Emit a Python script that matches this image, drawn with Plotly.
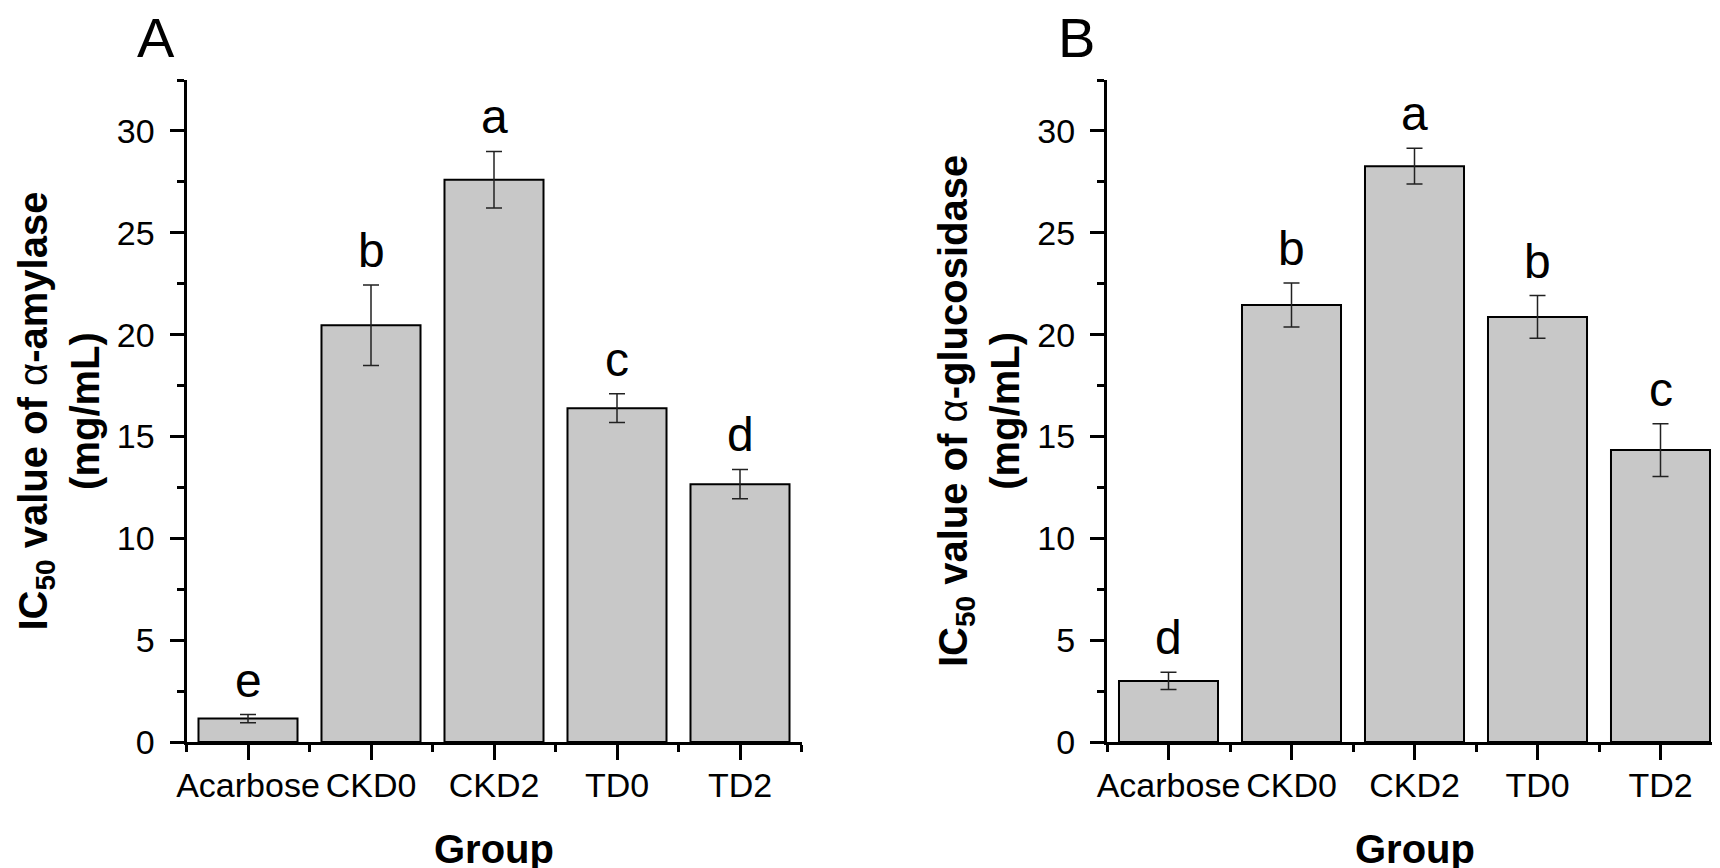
import plotly.graph_objects as go

# IC50 values (mg/mL), mean and SD per group
categories = ["Acarbose", "CKD0", "CKD2", "TD0", "TD2"]

amylase_mean = [1.15, 20.46, 27.60, 16.39, 12.66]
amylase_sd = [0.20, 1.98, 1.39, 0.71, 0.72]
amylase_letters = ["e", "b", "a", "c", "d"]

glucosidase_mean = [3.00, 21.45, 28.27, 20.87, 14.33]
glucosidase_sd = [0.42, 1.08, 0.88, 1.05, 1.29]
glucosidase_letters = ["d", "b", "a", "b", "c"]

FONT = "Arial, Liberation Sans, sans-serif"
W, H = 1720, 868
BAR_FILL = "#c8c8c8"

panels = [
    dict(tag="A", mean=amylase_mean, sd=amylase_sd, letters=amylase_letters,
         enzyme="amylase", x0=178.5, x1=793.5, xaxis="x", yaxis="y"),
    dict(tag="B", mean=glucosidase_mean, sd=glucosidase_sd, letters=glucosidase_letters,
         enzyme="glucosidase", x0=1099, x1=1714, xaxis="x2", yaxis="y2"),
]

plot_top, plot_bottom = 72, 734
ydom = [(H - plot_bottom) / H, (H - plot_top) / H]

fig = go.Figure()
annotations = []
xpos = list(range(len(categories)))

for i, p in enumerate(panels):
    fig.add_trace(go.Bar(
        x=xpos,
        y=p["mean"],
        width=0.805,
        marker=dict(color=BAR_FILL, line=dict(color="black", width=2)),
        error_y=dict(type="data", array=p["sd"], color="#222222", thickness=1.5, width=8),
        xaxis=p["xaxis"],
        yaxis=p["yaxis"],
        showlegend=False,
        hoverinfo="skip",
    ))

    # significance letters above the error bars
    for xi, m, s, lt in zip(xpos, p["mean"], p["sd"], p["letters"]):
        annotations.append(dict(
            x=xi, y=m + s, xref=p["xaxis"], yref=p["yaxis"],
            text=lt, showarrow=False, xanchor="center", yanchor="bottom", yshift=6,
            font=dict(family=FONT, size=48, color="black"),
        ))

    xdom = [p["x0"] / W, p["x1"] / W]
    sfx = "" if i == 0 else str(i + 1)
    fig.update_layout(**{
        "xaxis" + sfx: dict(
            domain=xdom, anchor=p["yaxis"], range=[-0.5, 4.5],
            tickmode="array", tickvals=xpos, ticktext=categories,
            showline=True, linecolor="black", linewidth=3,
            ticks="outside", ticklen=15, tickwidth=2.5, tickcolor="black",
            minor=dict(tickmode="linear", tick0=-0.5, dtick=1, ticks="outside",
                       ticklen=7, tickwidth=2.5, tickcolor="black"),
            showgrid=False, zeroline=False, ticklabelstandoff=-4,
            tickfont=dict(family=FONT, size=34, color="black"),
            fixedrange=True,
        ),
        "yaxis" + sfx: dict(
            domain=ydom, anchor=p["xaxis"], range=[0, 32.5],
            tickmode="linear", tick0=0, dtick=5,
            showline=True, linecolor="black", linewidth=3,
            ticks="outside", ticklen=14, tickwidth=2.5, tickcolor="black",
            minor=dict(tickmode="linear", tick0=0, dtick=2.5, ticks="outside",
                       ticklen=7, tickwidth=2.5, tickcolor="black"),
            showgrid=False, zeroline=False, ticklabelstandoff=8,
            tickfont=dict(family=FONT, size=34, color="black"),
            fixedrange=True,
        ),
    })

    # y-axis title (two lines)
    annotations.append(dict(
        x=(p["x0"] - 128) / W, y=(H - (plot_top + plot_bottom) / 2) / H,
        xref="paper", yref="paper", xanchor="center", yanchor="middle",
        textangle=-90, showarrow=False,
        text=f"<b>IC<sub>50</sub> value of </b>α<b>-{p['enzyme']}</b><br><b>(mg/mL)</b>",
        font=dict(family=FONT, size=40, color="black"),
    ))
    # x-axis title
    annotations.append(dict(
        x=(p["x0"] + p["x1"]) / 2 / W, y=(H - 841) / H,
        xref="paper", yref="paper", xanchor="center", yanchor="middle",
        showarrow=False, text="<b>Group</b>",
        font=dict(family=FONT, size=40, color="black"),
    ))
    # panel tag
    annotations.append(dict(
        x=(p["x0"] - 31) / W, y=(H - 29) / H,
        xref="paper", yref="paper", xanchor="center", yanchor="middle",
        showarrow=False, text=p["tag"],
        font=dict(family=FONT, size=56, color="black"),
    ))

fig.update_layout(
    width=W,
    height=H,
    margin=dict(l=0, r=0, t=0, b=0, autoexpand=False),
    paper_bgcolor="white",
    plot_bgcolor="white",
    annotations=annotations,
)

fig.write_html("out.html")
